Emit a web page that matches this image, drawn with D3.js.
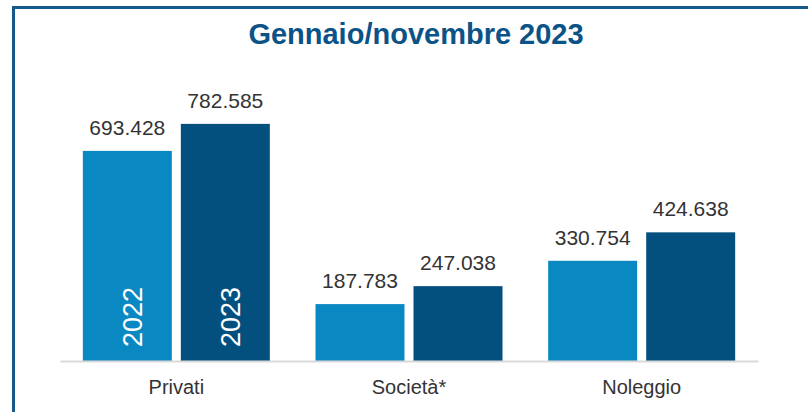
<!DOCTYPE html>
<html>
<head>
<meta charset="utf-8">
<script src="https://cdn.jsdelivr.net/npm/d3@7"></script>
<style>
  body { margin: 0; background: #fff; }
  svg { display: block; font-family: "Liberation Sans", Arial, sans-serif; }
</style>
</head>
<body>
<svg width="808" height="412"></svg>
<script>
// data
const categories = ["Privati", "Società*", "Noleggio"];
const years = ["2022", "2023"];
const values2022 = [693428, 187783, 330754];
const values2023 = [782585, 247038, 424638];
const title = "Gennaio/novembre 2023";

const colors = { "2022": "#0a88c1", "2023": "#03507f" };

const svg = d3.select("svg");
const width = +svg.attr("width");
const height = +svg.attr("height");

const baseY = 361;
const fmt = v => d3.format(",")(v).replace(/,/g, ".");

// frame (left + top only)
svg.append("path")
    .attr("d", `M13.5,${height} L13.5,7.5 L${width},7.5`)
    .attr("fill", "none")
    .attr("stroke", "#14588c")
    .attr("stroke-width", 3);

svg.append("text")
    .attr("x", 416)
    .attr("y", 44)
    .attr("text-anchor", "middle")
    .attr("font-size", 29)
    .attr("font-weight", "bold")
    .attr("fill", "#0b5386")
    .text(title);

const x0 = d3.scaleBand()
    .domain(categories)
    .range([60, 758])
    .paddingInner(0.1963)
    .paddingOuter(0.0981);

const x1 = d3.scaleBand()
    .domain(years)
    .range([0, x0.bandwidth()])
    .paddingInner(0.092);

const y = d3.scaleLinear()
    .domain([0, 800000])
    .range([baseY, baseY - 242.4]);

const rows = categories.map((c, i) => ({
    cat: c,
    vals: [
        { year: "2022", value: values2022[i] },
        { year: "2023", value: values2023[i] }
    ]
}));

const groups = svg.append("g")
    .selectAll("g")
    .data(rows)
    .enter()
    .append("g")
    .attr("transform", d => `translate(${x0(d.cat)},0)`);

groups.selectAll("rect")
    .data(d => d.vals)
    .enter()
    .append("rect")
    .attr("x", d => x1(d.year))
    .attr("y", d => y(d.value))
    .attr("width", x1.bandwidth())
    .attr("height", d => baseY - y(d.value))
    .attr("fill", d => colors[d.year]);

groups.selectAll("text.val")
    .data(d => d.vals)
    .enter()
    .append("text")
    .attr("class", "val")
    .attr("x", d => x1(d.year) + x1.bandwidth() / 2)
    .attr("y", d => y(d.value) - 16)
    .attr("text-anchor", "middle")
    .attr("font-size", 21)
    .attr("fill", "#333")
    .text(d => fmt(d.value));

// year labels inside first group only
groups.filter((d, i) => i === 0)
    .selectAll("text.yr")
    .data(d => d.vals)
    .enter()
    .append("text")
    .attr("class", "yr")
    .attr("transform", d => `translate(${x1(d.year) + x1.bandwidth() / 2 + 15},${baseY - 14}) rotate(-90)`)
    .attr("font-size", 27)
    .attr("fill", "#fff")
    .text(d => d.year);

// x axis
const xAxis = svg.append("g")
    .attr("transform", `translate(0,${baseY})`)
    .call(d3.axisBottom(x0).tickSize(0).tickSizeOuter(0));

xAxis.select(".domain")
    .attr("stroke", "#d9d9d9")
    .attr("stroke-width", 2);

xAxis.selectAll("text")
    .attr("y", 33)
    .attr("dy", 0)
    .attr("font-size", 20)
    .attr("font-family", "Liberation Sans, Arial, sans-serif")
    .attr("fill", "#333");
</script>
</body>
</html>
